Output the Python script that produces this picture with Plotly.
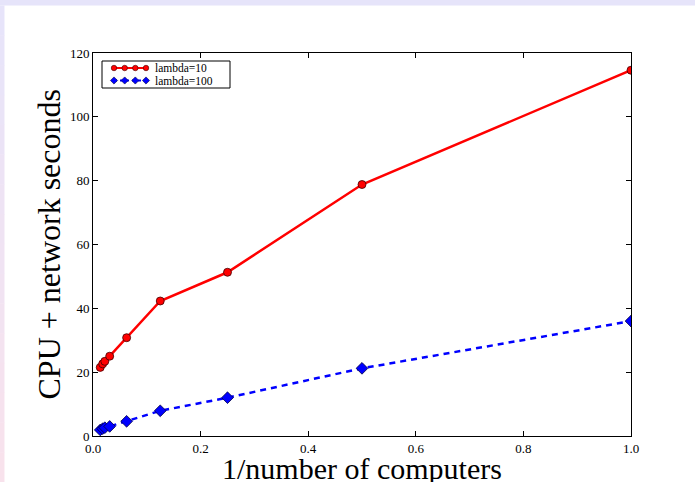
import plotly.graph_objects as go

# Data
x_vals = [0.0135, 0.018, 0.022, 0.031, 0.0625, 0.125, 0.25, 0.5, 1.0]
lambda10 = [21.5, 22.6, 23.4, 25.0, 30.8, 42.3, 51.3, 78.8, 114.6]
lambda100 = [1.9, 2.3, 2.6, 3.0, 4.6, 7.9, 12.0, 21.2, 36.0]
series_names = ["lambda=10", "lambda=100"]
x_ticks = [0.0, 0.2, 0.4, 0.6, 0.8, 1.0]
y_ticks = [0, 20, 40, 60, 80, 100, 120]
x_title = "1/number of computers"
y_title = "CPU + network seconds"

W, H = 695, 482
L, R, T, B = 93, 631, 53, 436
pw, ph = R - L, B - T

font_family = "Liberation Serif, DejaVu Serif, serif"
styles = [
    dict(line=dict(color="#ff0000", width=2.5),
         marker=dict(symbol="circle", size=8, color="#ff0000",
                     line=dict(color="#400000", width=0.8))),
    dict(line=dict(color="#0000ff", width=2.5, dash="6px,5px"),
         marker=dict(symbol="diamond", size=9, color="#0000ff",
                     line=dict(color="#000040", width=0.8))),
]

fig = go.Figure()
for name, ys, st in zip(series_names, [lambda10, lambda100], styles):
    fig.add_trace(go.Scatter(x=x_vals, y=ys, name=name, mode="lines+markers",
                             showlegend=False, **st))

# Manual legend on an overlay axis in pixel units (matplotlib-style, 4 markers per sample)
leg_rows = [68, 80.5]
leg_x = [114, 124.7, 135.3, 146]
leg_styles = [
    dict(line=dict(color="#ff0000", width=2),
         marker=dict(symbol="circle", size=5.5, color="#ff0000",
                     line=dict(color="#400000", width=0.6))),
    dict(line=dict(color="#0000ff", width=2, dash="3px,3px"),
         marker=dict(symbol="diamond", size=5.5, color="#0000ff",
                     line=dict(color="#000040", width=0.6))),
]
for yrow, st in zip(leg_rows, leg_styles):
    fig.add_trace(go.Scatter(x=leg_x, y=[yrow] * len(leg_x), mode="lines+markers",
                             xaxis="x2", yaxis="y2", showlegend=False, hoverinfo="skip", **st))

def px_to_paper_x(px):
    return (px - L) / pw

def px_to_paper_y(py):
    return (B - py) / ph

shapes = []
# top lavender strip
shapes.append(dict(type="rect", xref="paper", yref="paper",
                   x0=px_to_paper_x(0), x1=px_to_paper_x(W),
                   y0=px_to_paper_y(0), y1=px_to_paper_y(5.5),
                   fillcolor="#e6e4fa", line=dict(width=0), layer="below"))
# left gradient strip (lavender -> pink)
n = 16
c0 = (0xe6, 0xe4, 0xfa)
c1 = (0xf9, 0xe2, 0xec)
for i in range(n):
    y_top = 5.5 + (H - 5.5) * i / n
    y_bot = 5.5 + (H - 5.5) * (i + 1) / n
    t = (i + 0.5) / n
    c = tuple(int(round(c0[k] + (c1[k] - c0[k]) * t)) for k in range(3))
    shapes.append(dict(type="rect", xref="paper", yref="paper",
                       x0=px_to_paper_x(0), x1=px_to_paper_x(4.5),
                       y0=px_to_paper_y(y_top), y1=px_to_paper_y(y_bot) - 0.001,
                       fillcolor="rgb(%d,%d,%d)" % c, line=dict(width=0), layer="below"))
# legend box
shapes.append(dict(type="rect", xref="x2", yref="y2", x0=102, x1=230, y0=61, y1=88,
                   fillcolor="#ffffff", line=dict(color="#000000", width=1), layer="below"))

annotations = []
for yrow, name in zip(leg_rows, series_names):
    annotations.append(dict(xref="x2", yref="y2", x=153, y=yrow, text=name, showarrow=False,
                            xanchor="left", yanchor="middle",
                            font=dict(family=font_family, size=11.5, color="#000000")))
# axis titles
annotations.append(dict(xref="paper", yref="paper", x=0.5, y=px_to_paper_y(450),
                        text=x_title, showarrow=False, xanchor="center", yanchor="top",
                        font=dict(family=font_family, size=30, color="#000000")))
annotations.append(dict(xref="paper", yref="paper", x=px_to_paper_x(48), y=0.5,
                        text=y_title, showarrow=False, xanchor="center", yanchor="middle",
                        textangle=-90,
                        font=dict(family=font_family, size=32, color="#000000")))

axis_common = dict(
    showgrid=False, zeroline=False, showline=True, linecolor="#000000", linewidth=1,
    mirror="ticks", ticks="inside", ticklen=5, tickcolor="#000000", tickwidth=1,
    tickfont=dict(family=font_family, size=13, color="#000000"), automargin=False,
)

fig.update_layout(
    width=W, height=H,
    margin=dict(l=L, r=W - R, t=T, b=H - B),
    paper_bgcolor="#ffffff", plot_bgcolor="#ffffff",
    shapes=shapes, annotations=annotations,
    showlegend=False,
    xaxis=dict(range=[0, 1.0], tickvals=x_ticks, ticktext=["%.1f" % v for v in x_ticks],
               **axis_common),
    yaxis=dict(range=[0, 120], tickvals=y_ticks, ticktext=[str(v) for v in y_ticks],
               **axis_common),
    xaxis2=dict(overlaying="x", range=[L, R], visible=False, fixedrange=True),
    yaxis2=dict(overlaying="y", range=[B, T], visible=False, fixedrange=True),
)

fig.write_html("out.html")
